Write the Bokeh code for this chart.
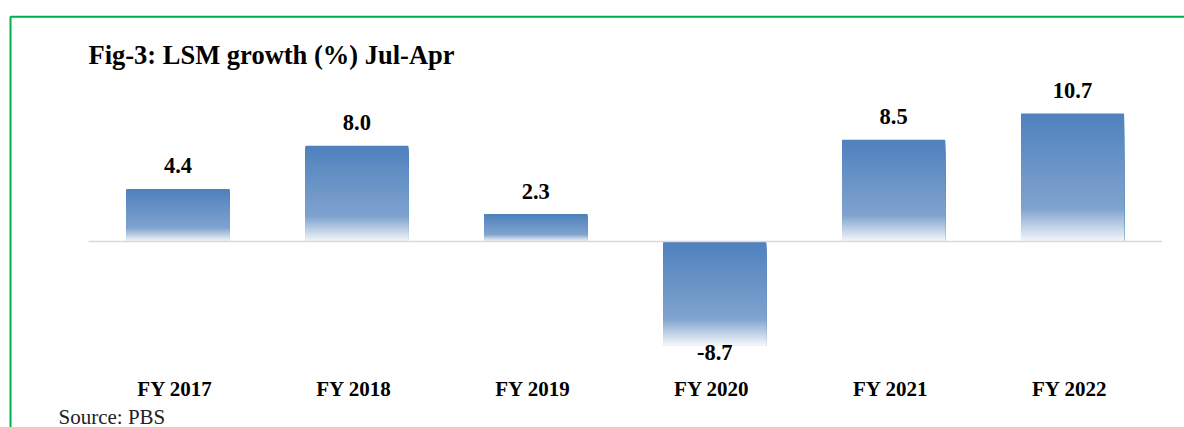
import numpy as np
from bokeh.plotting import figure
from bokeh.models import Range1d, Label, BoxAnnotation, ColumnDataSource
from bokeh.core.properties import value
from bokeh.embed import file_html
from bokeh.resources import INLINE

# ---- data ----
categories = ["FY 2017", "FY 2018", "FY 2019", "FY 2020", "FY 2021", "FY 2022"]
growth = [4.4, 8.0, 2.3, -8.7, 8.5, 10.7]
value_labels = ["4.4", "8.0", "2.3", "-8.7", "8.5", "10.7"]
title_text = "Fig-3: LSM growth (%) Jul-Apr"
source_text = "Source: PBS"

# ---- layout ----
W, H = 1184, 427
X0, X1 = -0.4918, 6.1257
Y0, Y1 = -15.55, 20.15
SX = W / (X1 - X0)
SY = H / (Y1 - Y0)
TS = 8  # text baseline correction (px)

def px_x(px):
    return X0 + px / SX

def px_y(py):
    return Y1 - py / SY

FONT_NAME = "Liberation Serif"
FONT = value(FONT_NAME)

p = figure(width=W, height=H, output_backend="svg", toolbar_location=None,
           x_range=Range1d(X0, X1), y_range=Range1d(Y0, Y1),
           x_axis_location=None, y_axis_location=None,
           min_border=0, min_border_left=0, min_border_right=0,
           min_border_top=0, min_border_bottom=0)
p.grid.visible = False
p.outline_line_color = None
p.background_fill_color = "white"
p.border_fill_color = "white"

# ---- gradient bars (stacked slices, each from its top down to bar bottom) ----
stops = [(0.0, (79, 129, 189)), (0.74, (128, 163, 206)), (1.0, (244, 247, 251))]

def grad(t):
    for (t0, c0), (t1, c1) in zip(stops[:-1], stops[1:]):
        if t <= t1:
            f = (t - t0) / (t1 - t0)
            c = [int(round(a + (b - a) * f)) for a, b in zip(c0, c1)]
            return "#%02x%02x%02x" % tuple(c)
    return "#%02x%02x%02x" % stops[-1][1]

bar_w = 0.5757
N = 90
L, R, T, B, C = [], [], [], [], []
for i, v in enumerate(growth):
    xc = i + 0.5
    top = max(v, 0.0)
    bot = min(v, 0.0)
    h = top - bot
    for k in range(N):
        L.append(xc - bar_w / 2)
        R.append(xc + bar_w / 2)
        T.append(top - h * k / N)
        B.append(bot)
        C.append(grad((k + 0.5) / N))
p.quad(left=L, right=R, top=T, bottom=B, fill_color=C, line_color=None)

# zero line
p.line(x=[0, len(categories)], y=[0, 0], line_color="#D9D9D9", line_width=1.5)

# ---- value labels ----
xs = [i + 0.5 for i in range(len(categories))]
vsrc = ColumnDataSource(dict(x=xs, y=growth, t=value_labels,
                             off=[(-15 if v >= 0 else 15) - TS for v in growth]))
p.text(x="x", y="y", text="t", y_offset="off", source=vsrc,
       text_align="center", text_baseline="alphabetic",
       text_font=FONT, text_font_style="bold", text_font_size="22.5px",
       text_color="black")

# ---- category labels ----
csrc = ColumnDataSource(dict(x=xs, y=[px_y(396)] * len(categories), t=categories))
p.text(x="x", y="y", text="t", source=csrc, x_offset=-3, y_offset=-TS,
       text_align="center", text_baseline="alphabetic",
       text_font=FONT, text_font_style="bold", text_font_size="21px",
       text_color="black")

# ---- title & source ----
p.add_layout(Label(x=88, y=H - 62 + TS, x_units="screen", y_units="screen",
                   text=title_text, text_font=FONT_NAME, text_font_style="bold",
                   text_font_size="26.5px", text_color="black",
                   text_baseline="alphabetic"))
p.add_layout(Label(x=58, y=H - 424 + TS, x_units="screen", y_units="screen",
                   text=source_text, text_font=FONT_NAME, text_font_style="normal",
                   text_font_size="21px", text_color="#222222",
                   text_baseline="alphabetic"))

# ---- green frame ----
p.add_layout(BoxAnnotation(left=px_x(10), top=px_y(16.2), right=X1 + 1, bottom=Y0 - 5,
                           fill_alpha=0, fill_color=None,
                           line_color="#00B050", line_alpha=1.0, line_width=2))

open("out.html", "w").write(file_html(p, INLINE))
